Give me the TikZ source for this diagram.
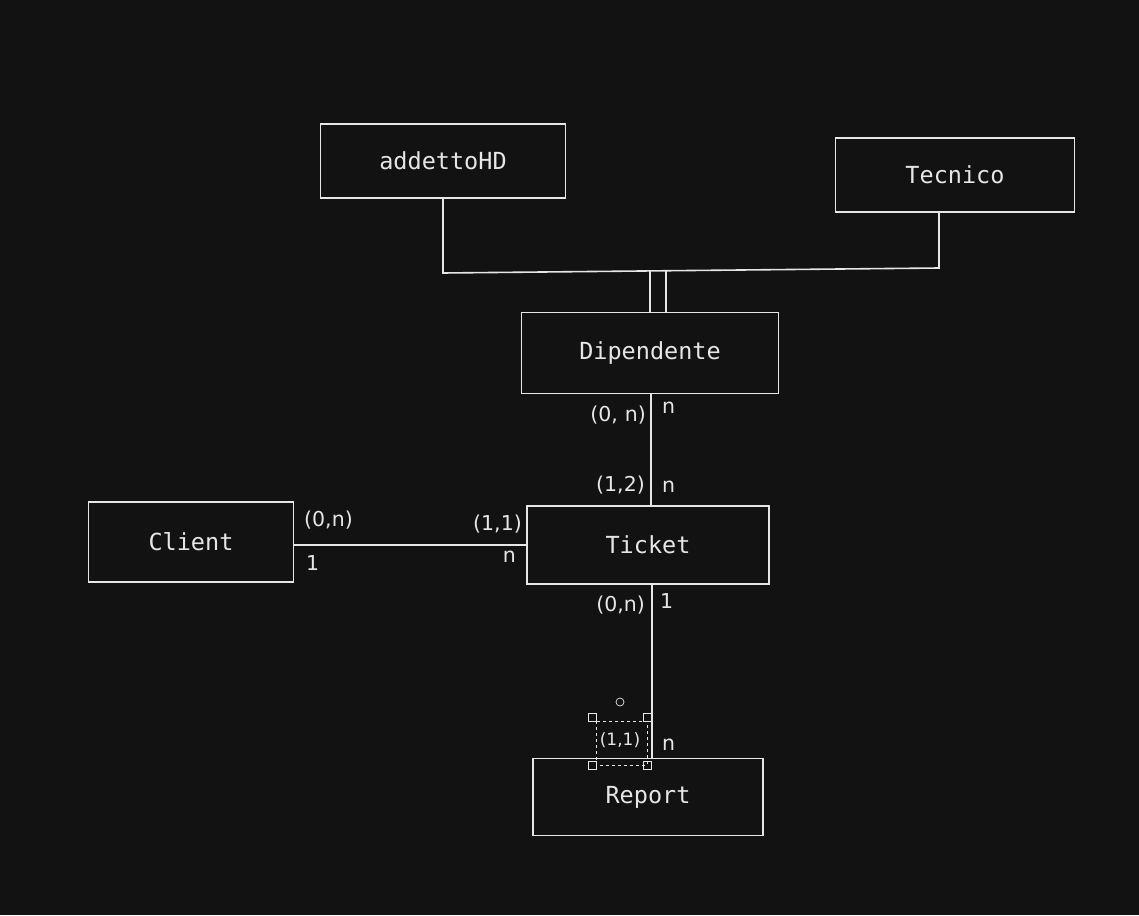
\documentclass[tikz,border=0pt]{standalone}
\usepackage{fontspec}
\newfontfamily\boxfont{DejaVu Sans Mono}
\newfontfamily\handfont{DejaVu Sans}
\definecolor{bgdark}{HTML}{121212}
\definecolor{inkwhite}{HTML}{E6E6E6}
\begin{document}
\begin{tikzpicture}[x=1pt,y=-1pt]
        \tikzstyle{every node}=[text=inkwhite]
        \tikzstyle{entity}=[draw=inkwhite,line width=1.6pt,inner sep=0pt,font=\boxfont\fontsize{23.5}{26}\selectfont]
        \tikzstyle{card}=[inner sep=0pt,font=\handfont\fontsize{20.5}{23}\selectfont]
        \tikzstyle{link}=[draw=inkwhite,line width=1.6pt]
        \tikzstyle{handle}=[draw=inkwhite,line width=0.7pt]
        \fill[bgdark] (0,0) rectangle (1139,915);
        \useasboundingbox (0,0) rectangle (1139,915);
        \node[entity,minimum width=245pt,minimum height=74pt] (addetto) at (443,161) {addettoHD};
        \node[entity,minimum width=239pt,minimum height=74pt] (tecnico) at (955,175) {Tecnico};
        \node[entity,minimum width=257pt,minimum height=81pt] (dipendente) at (650,353) {Dipendente};
        \node[entity,minimum width=205pt,minimum height=80pt] (client) at (191,542) {Client};
        \node[entity,minimum width=242pt,minimum height=78pt] (ticket) at (648,545) {Ticket};
        \node[entity,minimum width=230pt,minimum height=77pt] (report) at (648,797) {Report};
        % generalizzazione
        \coordinate (gl) at (443,273);
        \coordinate (gr) at (939,268);
        \draw[link] (addetto.south -| gl) -- (gl) -- (gr) -- (tecnico.south -| gr);
        \draw[link] (650,271) -- (dipendente.north -| 650,0);
        \draw[link] (666,271) -- (dipendente.north -| 666,0);
        % relazioni
        \draw[link] (dipendente.south -| 651,0) -- (ticket.north -| 651,0);
        \draw[link] (client.east |- 0,545) -- (ticket.west |- 0,545);
        \draw[link] (ticket.south -| 652,0) -- (report.north -| 652,0);
        % cardinalita
        \node[card,anchor=east] (c1) at (646,415) {(0,\,\,n)};
        \node[card,anchor=west] (c2) at (662,408) {n};
        \node[card,anchor=east] (c3) at (645,485) {(1,2)};
        \node[card,anchor=west] (c4) at (662,487) {n};
        \node[card,anchor=west] (c5) at (304,520) {(0,n)};
        \node[card,anchor=west] (c6) at (306,563) {1};
        \node[card,anchor=east] (c7) at (522,524) {(1,1)};
        \node[card,anchor=east] (c8) at (516,557) {n};
        \node[card,anchor=east] (c9) at (645,605) {(0,n)};
        \node[card,anchor=west] (c10) at (660,601) {1};
        \node[card,font=\handfont\fontsize{17}{20}\selectfont] (c11) at (620,740) {(1,1)};
        \node[card,anchor=west] (c12) at (662,745) {n};
        % selezione
        \draw[handle,dashed] (596,721) rectangle (647,765);
        \foreach \hx/\hy in {592/717,647/717,592/765,647/765}
            \draw[handle] (\hx-4,\hy-4) rectangle (\hx+4,\hy+4);
        \draw[handle] (620,702) circle (4);
    \end{tikzpicture}
\end{document}
